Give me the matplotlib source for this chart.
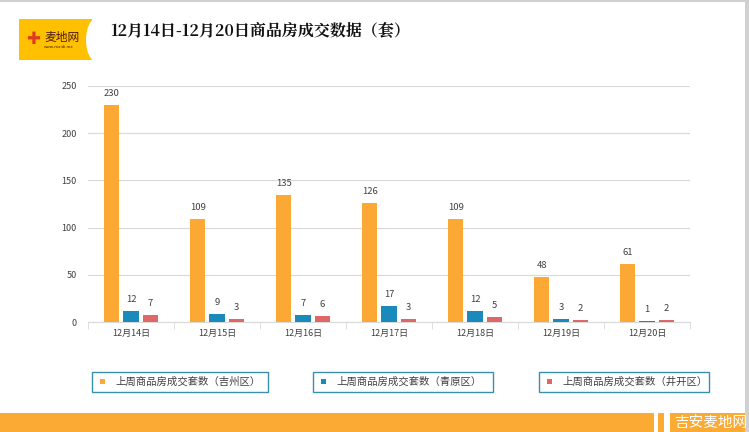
import numpy as np
import matplotlib
matplotlib.use("Agg")
import matplotlib.pyplot as plt
from matplotlib.patches import Rectangle, Ellipse

plt.rcParams['font.family'] = ['Noto Sans CJK SC', 'DejaVu Sans']

dates = ['12月14日', '12月15日', '12月16日', '12月17日', '12月18日', '12月19日', '12月20日']
jizhou = [230, 109, 135, 126, 109, 48, 61]
qingyuan = [12, 9, 7, 17, 12, 3, 1]
jinggang = [7, 3, 6, 3, 5, 2, 2]
series_names = ['上周商品房成交套数（吉州区）', '上周商品房成交套数（青原区）', '上周商品房成交套数（井开区）']
colors = ['#FBA834', '#1A8ABD', '#DE6868']

W, H = 749, 432
fig = plt.figure(figsize=(W / 100, H / 100), dpi=100)


def fx(x):
    return x / W


def fy(y):
    return 1 - y / H


# plot area
ax = fig.add_axes([fx(88), fy(322), fx(690) - fx(88), (322 - 86) / H])
x = np.arange(len(dates))
slot = 0.222
bw = 0.175
data = [jizhou, qingyuan, jinggang]
for i, (vals, c) in enumerate(zip(data, colors)):
    bars = ax.bar(x + (i - 1) * slot, vals, width=bw, color=c, zorder=3)
    ax.bar_label(bars, padding=5, fontsize=6.8, color='#404040')

ax.set_xlim(-0.5, len(dates) - 0.5)
ax.set_ylim(0, 250)
ax.set_yticks([0, 50, 100, 150, 200, 250])
ax.yaxis.grid(True, color='#D9D9D9', linewidth=0.8, zorder=0)
ax.set_xticks(x)
ax.set_xticklabels(dates)
ax.set_xticks(np.arange(-0.5, len(dates)), minor=True)
ax.tick_params(axis='x', which='major', length=0, labelsize=6.5, labelcolor='#404040', pad=5)
ax.tick_params(axis='x', which='minor', length=5, color='#D9D9D9')
ax.tick_params(axis='y', length=0, labelsize=6.5, labelcolor='#404040', pad=8)
for s in ['top', 'right', 'left']:
    ax.spines[s].set_visible(False)
ax.spines['bottom'].set_color('#D9D9D9')

# legend boxes
boxes = [(92, 268), (313, 493), (539, 709)]
for (x0, x1), name, c in zip(boxes, series_names, colors):
    fig.patches.append(Rectangle((fx(x0), fy(392)), fx(x1) - fx(x0), (392 - 372) / H,
                                 transform=fig.transFigure, facecolor='white',
                                 edgecolor='#3A8FAE', linewidth=1.0))
    fig.patches.append(Rectangle((fx(x0 + 8), fy(384)), fx(5), 5 / H,
                                 transform=fig.transFigure, facecolor=c, edgecolor='none'))
    fig.text(fx(x0 + 23), fy(382), name, fontsize=7.5, color='#404040', va='center', ha='left')

# title and logo
fig.text(fx(110), fy(31), '12月14日-12月20日商品房成交数据（套）', fontsize=11.5,
         fontweight='bold', color='#111111', va='center', ha='left',
         family=['Noto Serif CJK SC', 'Noto Sans CJK SC', 'DejaVu Sans'])
fig.patches.append(Rectangle((fx(19), fy(60)), fx(73), 41 / H, transform=fig.transFigure,
                             facecolor='#FFC000', edgecolor='none'))
fig.patches.append(Ellipse((fx(97), fy(40)), fx(22), 44 / H, transform=fig.transFigure,
                           facecolor='white', edgecolor='none'))
fig.text(fx(33), fy(39), '✚', fontsize=12, color='#E03A1E', va='center', ha='center',
         family=['DejaVu Sans'])
fig.text(fx(44), fy(37), '麦地网', fontsize=8.5, color='#4A1A10',
         va='center', ha='left')
fig.text(fx(44), fy(47), 'www.maidi.me', fontsize=3, color='#4A1A10', va='center', ha='left')

# footer band
fig.patches.append(Rectangle((0, 0), 1, (432 - 413) / H, transform=fig.transFigure,
                             facecolor='#FBAA34', edgecolor='none'))
for sx, sw in [(654, 4), (664, 6)]:
    fig.patches.append(Rectangle((fx(sx), 0), fx(sw), (432 - 413) / H, transform=fig.transFigure,
                                 facecolor='white', edgecolor='none'))
fig.text(fx(711), fy(423), '吉安麦地网', fontsize=10.5, color='white', va='center', ha='center')

# frame lines
fig.patches.append(Rectangle((fx(745), 0), fx(4), 1, transform=fig.transFigure,
                             facecolor='#D0D0D0', edgecolor='none'))
fig.patches.append(Rectangle((0, fy(2)), 1, 2 / H, transform=fig.transFigure,
                             facecolor='#D0D0D0', edgecolor='none'))

fig.savefig('out.png', dpi=100)
